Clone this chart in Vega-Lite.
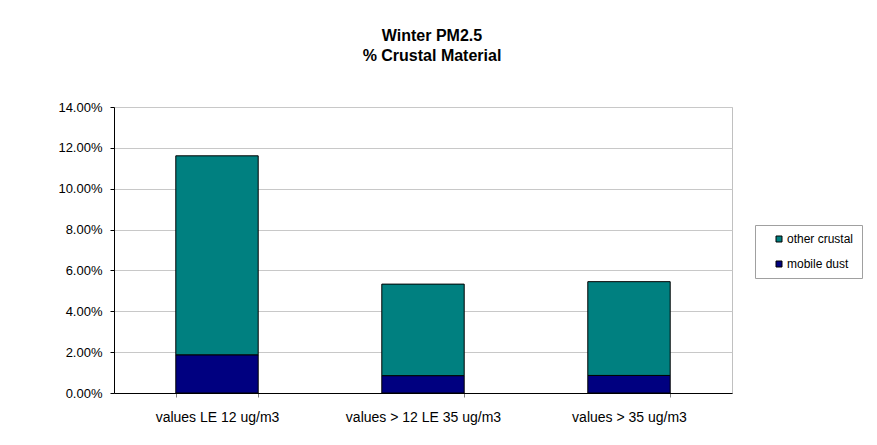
{
  "$schema": "https://vega.github.io/schema/vega-lite/v6.json",
  "autosize": {"type": "none"},
  "padding": {"left": 114, "top": 107, "right": 145, "bottom": 52},
  "width": 618,
  "height": 286,
  "background": "white",
  "title": {
    "text": ["Winter PM2.5", "% Crustal Material"],
    "font": "Liberation Sans",
    "fontSize": 16,
    "fontWeight": "bold",
    "color": "black",
    "lineHeight": 20,
    "anchor": "middle",
    "dx": 9,
    "offset": 37
  },
  "data": {
    "values": [
      {"category": "values LE 12 ug/m3", "series": "mobile dust", "value": 0.0187},
      {"category": "values LE 12 ug/m3", "series": "other crustal", "value": 0.0974},
      {"category": "values > 12 LE 35 ug/m3", "series": "mobile dust", "value": 0.0085},
      {"category": "values > 12 LE 35 ug/m3", "series": "other crustal", "value": 0.0448},
      {"category": "values > 35 ug/m3", "series": "mobile dust", "value": 0.0086},
      {"category": "values > 35 ug/m3", "series": "other crustal", "value": 0.0459}
    ]
  },
  "mark": {"type": "bar", "stroke": "black", "strokeWidth": 1},
  "encoding": {
    "x": {
      "field": "category",
      "type": "nominal",
      "sort": null,
      "scale": {"paddingInner": 0.6, "paddingOuter": 0.3},
      "axis": {
        "title": null,
        "labelAngle": 0,
        "labelFont": "Liberation Sans",
        "labelFontSize": 14,
        "labelColor": "black",
        "labelPadding": 13,
        "tickBand": "extent",
        "tickColor": "#808080",
        "tickSize": 4,
        "domainColor": "black",
        "grid": false
      }
    },
    "y": {
      "field": "value",
      "type": "quantitative",
      "stack": "zero",
      "scale": {"domain": [0, 0.14], "nice": false},
      "axis": {
        "title": null,
        "format": ".2%",
        "values": [0, 0.02, 0.04, 0.06, 0.08, 0.1, 0.12, 0.14],
        "labelFont": "Liberation Sans",
        "labelFontSize": 13,
        "labelColor": "black",
        "labelPadding": 8,
        "tickColor": "black",
        "tickSize": 4,
        "domainColor": "black",
        "grid": true,
        "gridColor": "#c8c8c8",
        "gridWidth": 1
      }
    },
    "color": {
      "field": "series",
      "type": "nominal",
      "scale": {"domain": ["other crustal", "mobile dust"], "range": ["#008080", "#000080"]},
      "legend": {
        "title": null,
        "orient": "none",
        "legendX": 641,
        "legendY": 118,
        "padding": 8,
        "symbolOffset": 10,
        "symbolType": "square",
        "symbolSize": 36,
        "symbolStrokeColor": "black",
        "symbolStrokeWidth": 1,
        "labelFont": "Liberation Sans",
        "labelFontSize": 12,
        "labelColor": "black",
        "labelOffset": 2,
        "rowPadding": 13,
        "strokeColor": "#a0a0a0",
        "fillColor": "white"
      }
    },
    "order": {"field": "series", "sort": "ascending"}
  },
  "config": {
    "view": {"stroke": "#c0c0c0"},
    "axis": {"domainWidth": 1}
  }
}
